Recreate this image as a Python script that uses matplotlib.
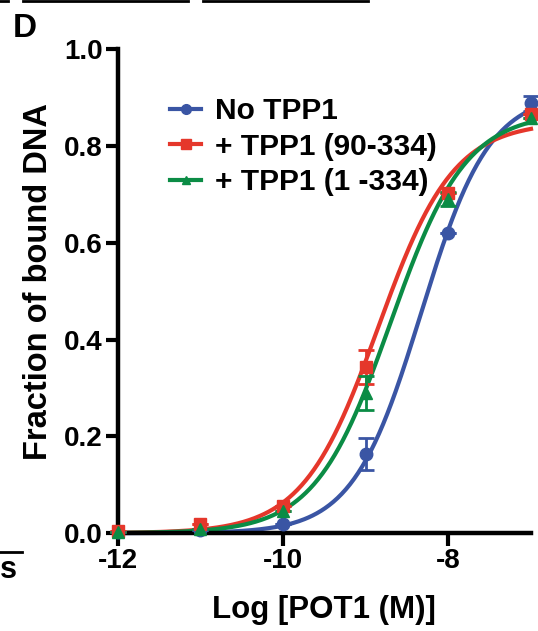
import numpy as np
import matplotlib
matplotlib.use("Agg")
import matplotlib.pyplot as plt

plt.rcParams['font.family'] = ['Liberation Sans', 'DejaVu Sans']
plt.rcParams['font.weight'] = 'bold'

# data
log_conc = [-12, -11, -10, -9, -8, -7]

no_tpp1 = [0.003, 0.006, 0.018, 0.163, 0.62, 0.888]
no_tpp1_err = [0.0, 0.0, 0.0, 0.033, 0.0, 0.015]

tpp1_90 = [0.004, 0.018, 0.057, 0.343, 0.702, 0.867]
tpp1_90_err = [0.0, 0.0, 0.0, 0.035, 0.0, 0.0]

tpp1_1 = [0.002, 0.008, 0.046, 0.289, 0.69, 0.858]
tpp1_1_err = [0.0, 0.0, 0.0, 0.035, 0.014, 0.0]

# fitted curve parameters (top, logEC50, hill slope)
fit_top = [0.91, 0.85, 0.87]
fit_logec50 = [-8.33, -8.85, -8.70]
fit_slope = [1.05, 0.95, 0.95]

labels = ['No TPP1', '+ TPP1 (90-334)', '+ TPP1 (1 -334)']
colors = ['#3a55a4', '#e5372b', '#0b8c45']
markers = ['o', 's', '^']

x_ticks = [-12, -10, -8]
y_ticks = [0.0, 0.2, 0.4, 0.6, 0.8, 1.0]


def hill(x, top, logec50, slope):
    return top / (1 + 10 ** ((logec50 - x) * slope))


fig = plt.figure(figsize=(5.38, 6.31), dpi=100)
ax = fig.add_axes([0.219, 0.155, 0.768, 0.767])

xs = np.linspace(-12, -7, 300)
series = [(no_tpp1, no_tpp1_err), (tpp1_90, tpp1_90_err), (tpp1_1, tpp1_1_err)]
for i, (vals, errs) in enumerate(series):
    ax.plot(xs, hill(xs, fit_top[i], fit_logec50[i], fit_slope[i]),
            color=colors[i], lw=3.0, zorder=2, clip_on=False)
    ax.errorbar(log_conc, vals, yerr=errs, fmt='none', ecolor=colors[i],
                elinewidth=2.0, capsize=6, capthick=2.0, zorder=3, clip_on=False)
    ax.plot(log_conc, vals, ls='none', marker=markers[i], color=colors[i],
            markersize=9 if i != 2 else 8, zorder=4, clip_on=False)

# legend proxies
handles = []
for i in range(3):
    h, = ax.plot([], [], color=colors[i], lw=3.0, marker=markers[i],
                 markersize=7 if i != 2 else 6)
    handles.append(h)
ax.legend(handles, labels, loc='upper left', bbox_to_anchor=(0.097, 0.925),
          frameon=False, fontsize=21.5, handlelength=1.05, handletextpad=0.47,
          labelspacing=0.25, borderaxespad=0)

ax.set_xlim(-12, -7)
ax.set_ylim(0, 1.0)
ax.set_xticks(x_ticks)
ax.set_xticklabels(['-12', '-10', '-8'])
ax.set_yticks(y_ticks)
ax.set_yticklabels(['%.1f' % v for v in y_ticks])
ax.tick_params(axis='both', labelsize=20, width=3.0, length=9, direction='out', pad=2)

for s in ['top', 'right']:
    ax.spines[s].set_visible(False)
for s in ['left', 'bottom']:
    ax.spines[s].set_linewidth(3.2)

ax.set_xlabel('Log [POT1 (M)]', fontsize=22.5, fontweight='bold', labelpad=15)
ax.set_ylabel('Fraction of bound DNA', fontsize=23.5, fontweight='bold')
ax.yaxis.set_label_coords(-0.155, 0.52)

# panel letter
fig.text(13 / 538, 1 - 37 / 631, 'D', fontsize=24, fontweight='bold', ha='left', va='baseline')

# bits of neighbouring panels cut off at the edges
fig.add_artist(plt.Line2D([0, 8 / 538], [0.998, 0.998], color='black', lw=2))
fig.add_artist(plt.Line2D([23 / 538, 188 / 538], [0.998, 0.998], color='black', lw=2))
fig.add_artist(plt.Line2D([203 / 538, 368 / 538], [0.998, 0.998], color='black', lw=2))
fig.add_artist(plt.Line2D([0, 22 / 538], [1 - 552 / 631, 1 - 552 / 631], color='black', lw=2))
fig.text(17 / 538, 1 - 578 / 631, 's', fontsize=22, fontweight='bold', ha='right', va='baseline')

fig.savefig('out.png', dpi=100)
